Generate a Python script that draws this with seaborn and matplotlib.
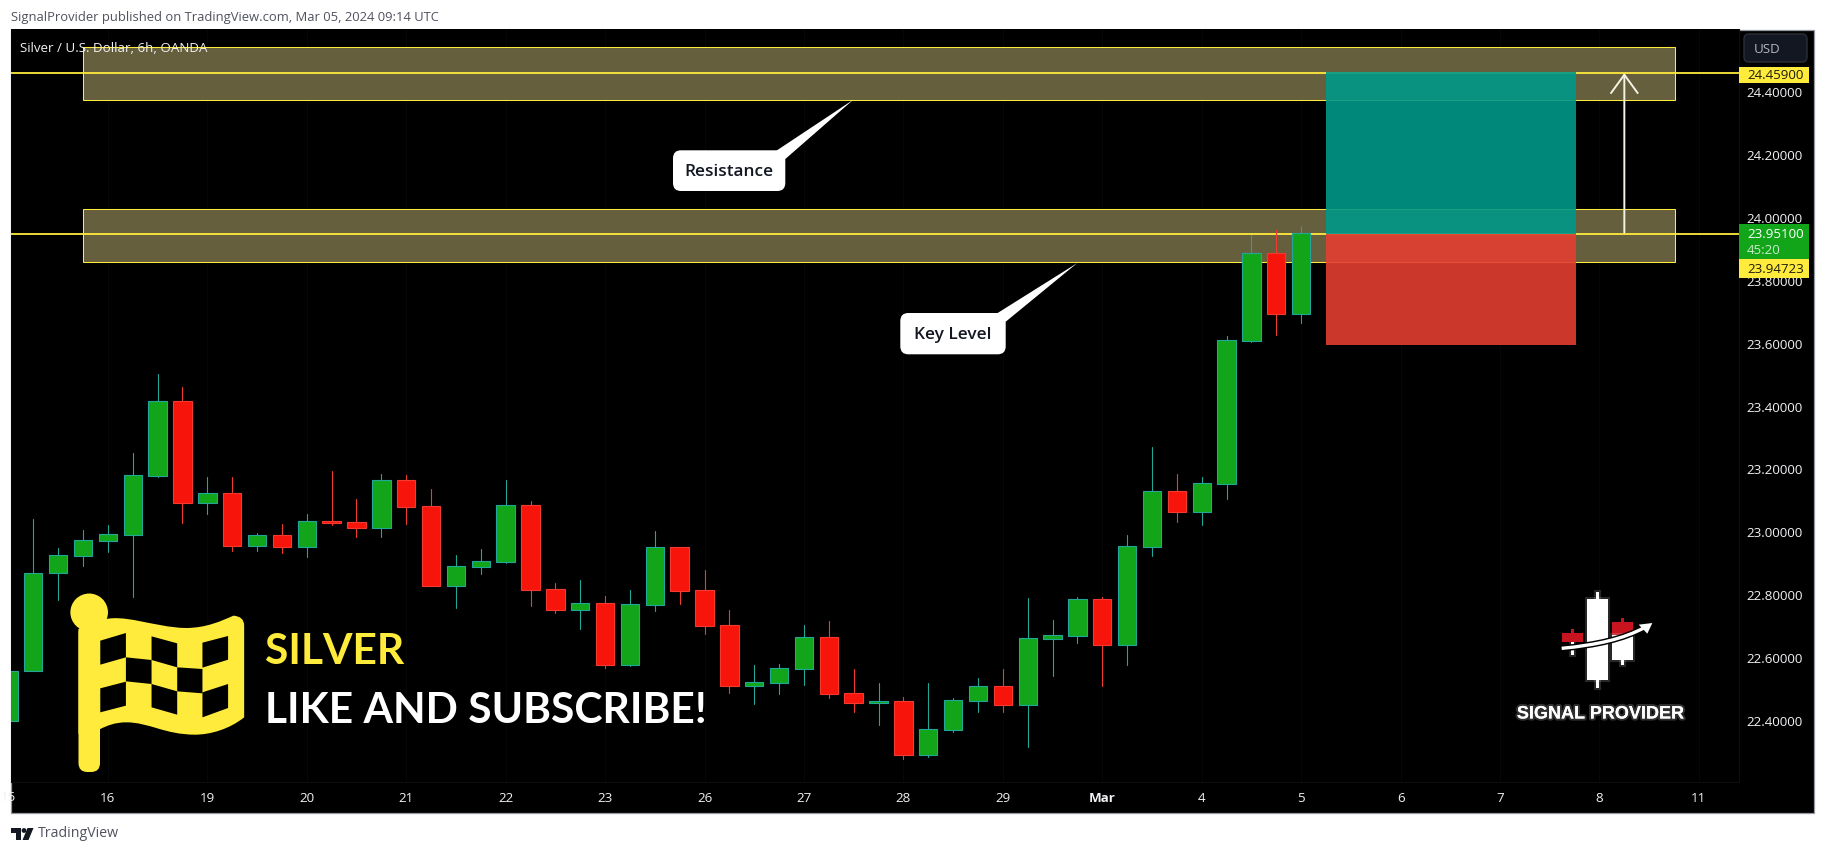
"""
plot.py
Silver / USD 6h candlestick chart with key levels and a long position box.
Output: out.png
"""
import numpy as np
import pandas as pd
import matplotlib
matplotlib.use("Agg")
import matplotlib.pyplot as plt
import matplotlib.patheffects as pe
import seaborn as sns

from matplotlib.patches import Rectangle, Polygon, FancyBboxPatch, Circle, PathPatch
from matplotlib.path import Path
from matplotlib.transforms import Affine2D, Bbox

W, H = 1824, 853

# candles, oldest first
opens = [22.398, 22.555, 22.868, 22.922, 22.970, 22.989, 23.177, 23.413, 23.091, 23.121,
         22.954, 22.987, 22.951, 23.033, 23.028, 23.012, 23.162, 23.079, 22.827, 22.887,
         22.903, 23.083, 22.815, 22.751, 22.771, 22.576, 22.767, 22.949, 22.812, 22.701,
         22.509, 22.519, 22.563, 22.663, 22.485, 22.454, 22.459, 22.290, 22.369, 22.462,
         22.507, 22.447, 22.659, 22.668, 22.784, 22.640, 22.951, 23.127, 23.062, 23.151,
         23.606, 23.884, 23.692]
closes = [22.555, 22.868, 22.924, 22.971, 22.990, 23.178, 23.413, 23.091, 23.121, 22.954,
          22.987, 22.951, 23.032, 23.027, 23.012, 23.162, 23.078, 22.827, 22.889, 22.904,
          23.083, 22.814, 22.751, 22.771, 22.576, 22.768, 22.949, 22.811, 22.700, 22.509,
          22.520, 22.564, 22.663, 22.484, 22.455, 22.460, 22.290, 22.370, 22.463, 22.507,
          22.447, 22.660, 22.669, 22.784, 22.640, 22.952, 23.127, 23.062, 23.152, 23.607,
          23.884, 23.692, 23.947]
highs = [22.555, 23.039, 22.947, 23.004, 23.020, 23.249, 23.500, 23.459, 23.173, 23.173,
         22.995, 23.022, 23.055, 23.192, 23.103, 23.182, 23.179, 23.134, 22.925, 22.944,
         23.163, 23.096, 22.836, 22.845, 22.794, 22.813, 23.001, 22.949, 22.877, 22.750,
         22.575, 22.577, 22.702, 22.715, 22.562, 22.518, 22.472, 22.518, 22.470, 22.534,
         22.562, 22.788, 22.718, 22.791, 22.791, 22.988, 23.268, 23.182, 23.172, 23.621,
         23.943, 23.958, 23.970]
lows = [22.398, 22.555, 22.783, 22.890, 22.934, 22.792, 23.174, 23.026, 23.055, 22.937,
        22.937, 22.931, 22.918, 23.021, 22.982, 22.982, 23.023, 22.827, 22.756, 22.864,
        22.899, 22.762, 22.740, 22.689, 22.564, 22.573, 22.747, 22.769, 22.673, 22.486,
        22.451, 22.483, 22.511, 22.470, 22.427, 22.385, 22.277, 22.282, 22.363, 22.427,
        22.427, 22.315, 22.540, 22.646, 22.509, 22.575, 22.923, 23.030, 23.021, 23.103,
        23.602, 23.625, 23.662]

# time axis, one label every four candles
tick_idx = [4, 8, 12, 16, 20, 24, 28, 32, 36, 40, 44, 48, 52, 56, 60, 64, 68]
tick_txt = ["16", "19", "20", "21", "22", "23", "26", "27", "28", "29", "Mar",
            "4", "5", "6", "7", "8", "11"]
price_ticks = [22.4, 22.6, 22.8, 23.0, 23.2, 23.4, 23.6, 23.8, 24.0, 24.2, 24.4]

# levels and drawings
zones = [(24.540, 24.371), (24.025, 23.856)]
zone_span = (3.0, 67.05)
level_lines = [24.457, 23.945]
last_price = 23.951
position_span = (53.0, 63.05)
position_top, position_entry, position_stop = 24.459, 23.945, 23.593
arrow_x, arrow_from, arrow_to = 65.0, 23.95, 24.457

YELLOW = "#FFEB3B"
GREEN_BODY = "#12A519"
RED_BODY = "#F7140A"
GREEN_EDGE = "#22A69A"
RED_EDGE = "#F23A30"
UI_FONT = ["Open Sans", "DejaVu Sans"]

sns.set_theme(style="dark", rc={"axes.facecolor": "black", "figure.facecolor": "white"})
plt.rcParams["font.family"] = UI_FONT

df = pd.DataFrame({"idx": np.arange(len(opens)), "open": opens, "close": closes,
                   "high": highs, "low": lows})
df["up"] = df["close"] >= df["open"]
df["bottom"] = df[["open", "close"]].min(axis=1)
df["height"] = (df["close"] - df["open"]).abs()

wicks = df.melt(id_vars=["idx", "up"], value_vars=["low", "high"], value_name="price")

fig = plt.figure(figsize=(W / 100, H / 100), dpi=100)
ax = fig.add_axes([11 / W, 1 - 783 / H, (1739 - 11) / W, (783 - 30) / H])

# pixel coordinates, top left origin, for the page furniture
PX = Affine2D().scale(1, -1).translate(0, H)


def px_add(artist, z=8):
    artist.set_transform(PX)
    artist.set_clip_on(False)
    artist.set_zorder(z)
    ax.add_artist(artist)
    return artist


def px_text(x, y, s, **kw):
    kw.setdefault("clip_on", False)
    return ax.text(x, y, s, transform=PX, **kw)


# chart frame behind the axes
fig.add_artist(Rectangle((10.5, 30.5), 1803, 783, transform=PX, facecolor="black",
                         edgecolor="#9598A1", lw=0.9, zorder=-5))

# zones and horizontal levels
for top, bot in zones:
    ax.add_patch(Rectangle((zone_span[0], bot), zone_span[1] - zone_span[0], top - bot,
                           facecolor="#655F3D", edgecolor=YELLOW, lw=0.75, zorder=1))
for lvl in level_lines:
    ax.axhline(lvl, color=YELLOW, lw=1.3, zorder=1.5)

# candles
sns.lineplot(data=wicks, x="idx", y="price", units="idx", hue="up", estimator=None,
             palette={True: GREEN_EDGE, False: RED_EDGE}, lw=0.8, sort=False, legend=False,
             ax=ax, zorder=2.9)
for up, body, edge in [(True, GREEN_BODY, GREEN_EDGE), (False, RED_BODY, RED_EDGE)]:
    sub = df[df["up"] == up]
    sns.barplot(x=sub["idx"], y=sub["height"], bottom=sub["bottom"].to_numpy(), native_scale=True,
                color=body, saturation=1, edgecolor=edge, linewidth=0.8, width=0.74,
                errorbar=None, ax=ax, zorder=3)

# long position box
ax.add_patch(Rectangle((position_span[0], position_entry), position_span[1] - position_span[0],
                       position_top - position_entry, facecolor="#009889", alpha=0.9,
                       lw=0, zorder=4))
ax.add_patch(Rectangle((position_span[0], position_stop), position_span[1] - position_span[0],
                       position_entry - position_stop, facecolor="#E43E31", alpha=0.9,
                       lw=0, zorder=4))
ax.annotate("", xy=(arrow_x, arrow_to), xytext=(arrow_x, arrow_from), zorder=5,
            arrowprops=dict(arrowstyle="->,head_length=1.1,head_width=0.8", color="#F5F3E4",
                            lw=1.4, shrinkA=0, shrinkB=0))

# axes
ax.set_xlim((11 - 8.44) / 24.86, (1739 - 8.44) / 24.86)
ax.set_ylim(24 - (783 - 217.8) / 314.5, 24 + (217.8 - 30) / 314.5)
ax.set_xlabel("")
ax.set_ylabel("")
ax.set_xticks(tick_idx)
ax.set_xticklabels(tick_txt)
ax.yaxis.tick_right()
ax.set_yticks(price_ticks)
ax.set_yticklabels([f"{p:.5f}" for p in price_ticks])
ax.tick_params(axis="y", length=0, pad=5.5, labelsize=9.6, labelcolor="#F0F1F4")
ax.tick_params(axis="x", length=0, pad=6.5, labelsize=9.6, labelcolor="#F0F1F4", bottom=True)
for lab in ax.get_xticklabels():
    if lab.get_text() == "Mar":
        lab.set_fontweight("bold")
ax.xaxis.grid(True, color="#070707", lw=0.8)
ax.yaxis.grid(False)
ax.set_axisbelow(True)
for name, spine in ax.spines.items():
    spine.set_visible(name in ("right", "bottom"))
    spine.set_color("#0E0E0E")
    spine.set_linewidth(0.8)

# "15" sits on the left edge and gets cut by the chart frame
cut = px_text(8.4, 798, "15", color="#F0F1F4", fontsize=9.6, ha="center", va="center")
cut.set_clip_box(Bbox([[11, 0], [W, H]]))

# header, footer
px_text(11, 18, "SignalProvider published on TradingView.com, Mar 05, 2024 09:14 UTC",
        color="#50535E", fontsize=9.35, va="center")
px_text(20, 48.5, "Silver / U.S. Dollar, 6h, OANDA", color="#F0F1F4", fontsize=9.6,
        va="center", zorder=6)
px_text(38, 833.5, "TradingView", color="#50535E", fontsize=10.2, va="center")
px_add(Polygon([(11, 829), (21, 829), (21, 841), (16, 841), (16, 833.5), (11, 833.5)],
               facecolor="#131722", lw=0))
px_add(Circle((24, 831.5), 2.4, facecolor="#131722", lw=0))
px_add(Polygon([(27.5, 829), (33.5, 829), (28.5, 841), (22.5, 841)], facecolor="#131722", lw=0))

# price axis badges
px_add(FancyBboxPatch((1744, 35), 63, 28, boxstyle="round,pad=0,rounding_size=5",
                      facecolor="#131722", edgecolor="#2A2E39", lw=1))
px_text(1754, 49.5, "USD", color="#B2B5BE", fontsize=9.6, va="center", zorder=9)
px_add(Rectangle((1739, 68), 70, 16, facecolor=YELLOW, lw=0))
px_text(1804, 76, "24.45900", color="#1C1C10", fontsize=9.6, ha="right", va="center", zorder=9)
px_add(Rectangle((1739, 225), 70, 35, facecolor=GREEN_BODY, lw=0))
px_text(1804, 235, f"{last_price:.5f}", color="white", fontsize=9.6, ha="right", va="center", zorder=9)
px_text(1747, 251, "45:20", color="#CBE9CC", fontsize=9.6, va="center", zorder=9)
px_add(Rectangle((1739, 260), 70, 19, facecolor=YELLOW, lw=0))
px_text(1804, 270, "23.94723", color="#1C1C10", fontsize=9.6, ha="right", va="center", zorder=9)

# callouts
callouts = [
    ("Resistance", (673, 151.3, 112.3, 40.7), [(776.7, 151.5), (853.3, 100.7), (785.3, 160)]),
    ("Key Level", (900.3, 314, 105.4, 41.3), [(997.3, 314.2), (1077.3, 264), (1005.7, 322.7)]),
]
for label, (bx, by, bw, bh), tail in callouts:
    px_add(FancyBboxPatch((bx, by), bw, bh, boxstyle="round,pad=0,rounding_size=8",
                          facecolor="white", lw=0))
    px_add(Polygon(tail, facecolor="white", lw=0))
    px_text(bx + bw / 2, by + bh / 2, label, color="#131722", fontsize=12.4, fontweight=600,
            ha="center", va="center", zorder=9)


# flag icon, traced in zoom units of the reference
def fz(points):
    return [(x / 2.613, 330 + y / 3) for x, y in points]


px_add(Circle(fz([(233, 850)])[0], 18.8, facecolor=YELLOW, lw=0))
px_add(FancyBboxPatch((78.5, 625), 21.5, 148, boxstyle="round,pad=0,rounding_size=9",
                      facecolor=YELLOW, lw=0))
flag_verts = [(205, 900), (262, 875),
              (320, 850), (400, 895), (485, 897),
              (540, 897), (580, 875), (610, 860),
              (638, 862), (638, 890),
              (638, 1165),
              (600, 1200), (550, 1217), (510, 1217),
              (430, 1217), (390, 1180), (330, 1180),
              (300, 1180), (280, 1190), (262, 1200),
              (205, 1215), (205, 900)]
flag_codes = [Path.MOVETO, Path.LINETO,
              Path.CURVE4, Path.CURVE4, Path.CURVE4,
              Path.CURVE4, Path.CURVE4, Path.CURVE4,
              Path.CURVE3, Path.CURVE3,
              Path.LINETO,
              Path.CURVE4, Path.CURVE4, Path.CURVE4,
              Path.CURVE4, Path.CURVE4, Path.CURVE4,
              Path.CURVE4, Path.CURVE4, Path.CURVE4,
              Path.LINETO, Path.CLOSEPOLY]
px_add(PathPatch(Path(fz(flag_verts), flag_codes), facecolor=YELLOW, lw=0))
flag_cells = [
    [(262, 935), (329, 912), (329, 985), (262, 1007)],
    [(396, 922), (463, 943), (463, 1015), (396, 993)],
    [(529, 941), (596, 921), (596, 992), (529, 1016)],
    [(329, 985), (396, 993), (396, 1065), (329, 1057)],
    [(463, 1015), (529, 1020), (529, 1093), (463, 1087)],
    [(262, 1078), (329, 1058), (329, 1130), (262, 1150)],
    [(396, 1065), (463, 1087), (463, 1157), (396, 1135)],
    [(529, 1090), (596, 1065), (596, 1137), (529, 1165)],
]
for cell in flag_cells:
    px_add(Polygon(fz(cell), facecolor="black", lw=0), z=8.5)

px_text(265, 652, "SILVER", color=YELLOW, fontsize=30.6, fontweight="bold",
        family=["Lato", "DejaVu Sans"], va="center", zorder=9)
px_text(265, 711, "LIKE AND SUBSCRIBE!", color="white", fontsize=30.6, fontweight="bold",
        family=["Lato", "DejaVu Sans"], va="center", zorder=9)


# signal provider logo, same idea
def lz(points):
    return [(1450 + x / 3, 560 + y / 3) for x, y in points]


glow = [pe.withStroke(linewidth=3, foreground="#FFFFFF28")]


def logo_box(x0, y0, x1, y1, color):
    (ax0, ay0), (ax1, ay1) = lz([(x0, y0), (x1, y1)])
    return px_add(Rectangle((ax0, ay0), ax1 - ax0, ay1 - ay0, facecolor=color, lw=0), z=9)


for args in [(438, 100, 448, 388, "white"), (411, 120, 475, 363, "white"),
             (362, 210, 371, 250, "#C8141E"), (362, 250, 371, 288, "white"),
             (514, 177, 523, 228, "#C8141E"), (514, 228, 523, 318, "white"),
             (335, 222, 398, 250, "#C8141E"),
             (487, 190, 550, 228, "#C8141E"), (487, 228, 550, 302, "white")]:
    box = logo_box(*args)
    if args[4] == "white":
        box.set_path_effects(glow)

curve = Path(lz([(335, 268), (440, 258), (520, 240), (585, 205)]),
             [Path.MOVETO, Path.CURVE4, Path.CURVE4, Path.CURVE4])
px_add(PathPatch(curve, facecolor="none", edgecolor="black", lw=4.5), z=9.2)
px_add(PathPatch(curve, facecolor="none", edgecolor="white", lw=2.4), z=9.3)
px_add(Polygon(lz([(607, 192), (566, 197), (592, 224)]), facecolor="white", lw=0), z=9.3)
px_text(1600.5, 715, "SIGNAL PROVIDER", color="white", fontsize=13, fontweight="bold",
        family=["Liberation Sans", "DejaVu Sans"], ha="center", va="center", zorder=9,
        path_effects=[pe.withStroke(linewidth=3, foreground="#FFFFFF30")])

fig.savefig("out.png", dpi=100)
